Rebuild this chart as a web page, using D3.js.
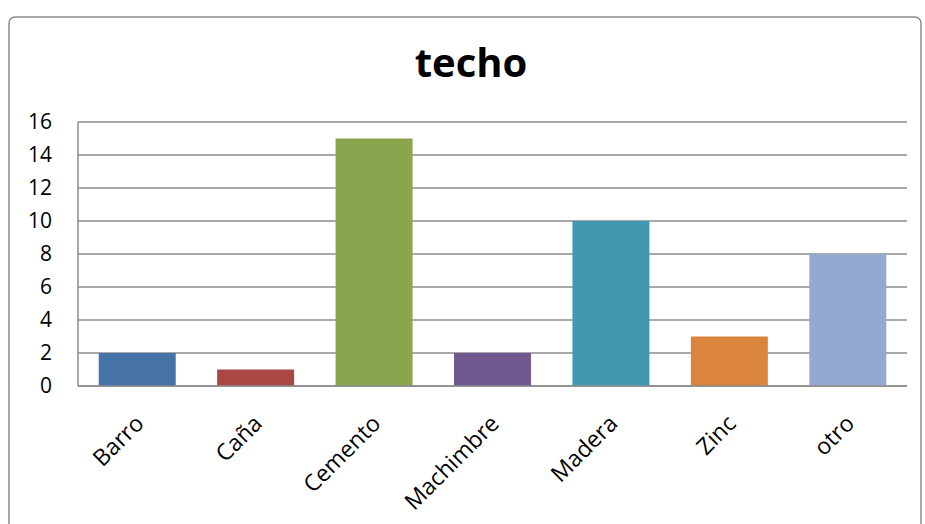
<!DOCTYPE html>
<html lang="en">
<head>
    <meta charset="UTF-8">
    <title>techo</title>
    <script src="https://d3js.org/d3.v7.min.js"></script>
    <style>
        body { margin: 0; background: #fff; }
        text { font-family: "Open Sans", sans-serif; fill: #000; }
    </style>
</head>
<body>
<div id="chart"></div>

<script>

const categories = ["Barro", "Caña", "Cemento", "Machimbre", "Madera", "Zinc", "otro"];
const values = [2, 1, 15, 2, 10, 3, 8];
const colors = ["#4572A7", "#AA4643", "#89A54E", "#71588F", "#4198AF", "#DB843D", "#93A9CF"];
const yTicks = [0, 2, 4, 6, 8, 10, 12, 14, 16];

const width = 925;
const height = 524;
const plot = {left: 78, right: 907, top: 122, bottom: 386};

const svg = d3.select("#chart")
    .append("svg")
    .attr("width", width)
    .attr("height", height);

// outer chart border, cut off at the bottom
svg.append("rect")
    .attr("x", 9)
    .attr("y", 17)
    .attr("width", 912)
    .attr("height", 600)
    .attr("rx", 6)
    .attr("fill", "none")
    .attr("stroke", "#8a8a8a")
    .attr("stroke-width", 1.5);

svg.append("text")
    .attr("x", 471)
    .attr("y", 77)
    .attr("text-anchor", "middle")
    .style("font-size", "40px")
    .style("font-weight", "bold")
    .text("techo");

const x = d3.scaleBand()
    .domain(categories)
    .range([plot.left, plot.right])
    .paddingInner(0.35)
    .paddingOuter(0.175);

const y = d3.scaleLinear()
    .domain([0, 16])
    .range([plot.bottom, plot.top]);

// gridlines
svg.append("g")
    .selectAll("line")
    .data(yTicks)
    .enter().append("line")
    .attr("x1", plot.left)
    .attr("x2", plot.right)
    .attr("y1", d => y(d))
    .attr("y2", d => y(d))
    .attr("stroke", "#8c8c8c")
    .attr("stroke-width", 1.5);

// bars
svg.append("g")
    .selectAll("rect")
    .data(values)
    .enter().append("rect")
    .attr("x", (d, i) => x(categories[i]))
    .attr("y", d => y(d))
    .attr("width", x.bandwidth())
    .attr("height", d => y(0) - y(d))
    .attr("fill", (d, i) => colors[i]);

// axis lines
svg.append("line")
    .attr("x1", plot.left).attr("x2", plot.left)
    .attr("y1", plot.top).attr("y2", plot.bottom)
    .attr("stroke", "#8c8c8c")
    .attr("stroke-width", 1.5);
svg.append("line")
    .attr("x1", plot.left).attr("x2", plot.right)
    .attr("y1", plot.bottom).attr("y2", plot.bottom)
    .attr("stroke", "#8c8c8c")
    .attr("stroke-width", 1.5);

// y tick labels
const yAxis = d3.axisLeft(y).tickValues(yTicks).tickSize(0).tickPadding(0);
svg.append("g")
    .attr("transform", "translate(52,0)")
    .call(yAxis)
    .call(g => g.select(".domain").remove())
    .call(g => g.selectAll("text")
        .style("font-family", "'Open Sans', sans-serif")
        .style("font-size", "21px")
        .attr("fill", "#000"));

// x labels, rotated
svg.append("g")
    .selectAll("text")
    .data(categories)
    .enter().append("text")
    .attr("transform", d => `translate(${x(d) + x.bandwidth() / 2 + 8},425) rotate(-45)`)
    .attr("text-anchor", "end")
    .style("font-size", "23px")
    .text(d => d);

</script>
</body>
</html>
